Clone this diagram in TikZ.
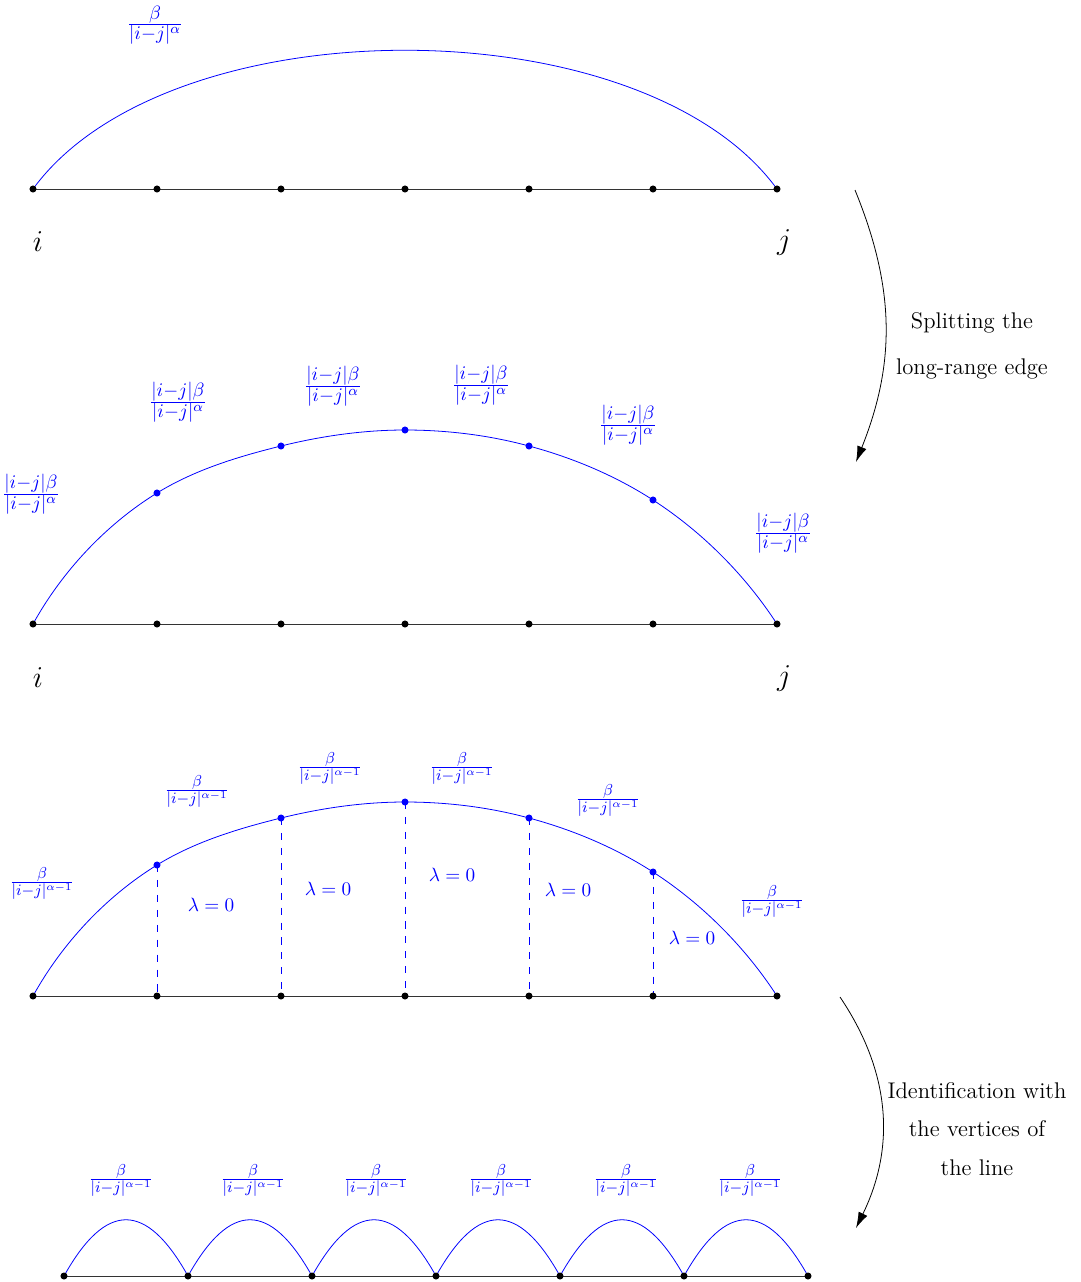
\documentclass[tikz,border=0pt]{standalone}
\usetikzlibrary{arrows.meta}
\begin{document}
\begin{tikzpicture}[x=0.02cm,y=-0.02cm,
  dot/.style={circle,fill=black,inner sep=0pt,minimum size=4pt},
  bdot/.style={circle,fill=blue,inner sep=0pt,minimum size=4pt},
  base/.style={draw=black!80,line width=0.55pt},
  arc/.style={draw=blue,line width=0.45pt},
  dsh/.style={draw=blue,line width=0.45pt,dash pattern=on 4pt off 4.5pt},
  lab/.style={text=blue,font=\fontsize{15.5}{18}\selectfont,inner sep=0pt},
  slab/.style={text=blue,font=\fontsize{12.5}{15}\selectfont,inner sep=0pt},
  lam/.style={text=blue,font=\fontsize{10.5}{13}\selectfont,inner sep=0pt},
  ij/.style={font=\fontsize{18}{20}\selectfont,inner sep=0pt},
  txta/.style={font=\fontsize{12.9}{26}\selectfont,align=center,inner sep=0pt},
  txtb/.style={font=\fontsize{12.9}{22}\selectfont,align=center,inner sep=0pt},
  arr/.style={-{Latex[length=9pt,width=5.5pt]},line width=0.45pt}
]
\useasboundingbox (0,0) rectangle (1080,1282);

% ---------- coordinates ----------
\foreach \k in {1,...,7}{
  \coordinate (a\k) at ({33+124*(\k-1)},189);
  \coordinate (b\k) at ({33+124*(\k-1)},624);
  \coordinate (c\k) at ({33+124*(\k-1)},996);
  \coordinate (d\k) at ({64+124*(\k-1)},1276);
}
\coordinate (p1) at (157,493);
\coordinate (p2) at (281,446);
\coordinate (p3) at (405,430);
\coordinate (p4) at (529,446);
\coordinate (p5) at (653,500);
\coordinate (q1) at (157,865);
\coordinate (q2) at (281,818);
\coordinate (q3) at (405,802);
\coordinate (q4) at (529,818);
\coordinate (q5) at (653,872);

% ---------- row 1 ----------
\draw[base] (a1) -- (a7);
\draw[arc] (a1) .. controls +(135,-185) and +(-135,-185) .. (a7);
\foreach \k in {1,...,7}{ \node[dot] (na\k) at (a\k) {}; }
\node[lab] (l0) at (155,25) {$\frac{\beta}{|i-j|^{\alpha}}$};
\node[ij] (i1) at (38,242) {$i$};
\node[ij] (j1) at (784,242) {$j$};

% ---------- row 2 ----------
\draw[base] (b1) -- (b7);
\draw[arc] (b1) .. controls +(29.1,-52.6) and +(-51.2,31.6) .. (p1)
               .. controls +(37.6,-23.2) and +(-42.9,10.6) .. (p2)
               .. controls +(40.5,-10.0) and +(-41.7,0) .. (p3)
               .. controls +(41.7,0) and +(-40.2,-10.9) .. (p4)
               .. controls +(43.5,11.7) and +(-37.9,-24.5) .. (p5)
               .. controls +(49.1,31.8) and +(-31.9,-49.1) .. (b7);
\foreach \k in {1,...,7}{ \node[dot] (nb\k) at (b\k) {}; }
\foreach \k in {1,...,5}{ \node[bdot] (np\k) at (p\k) {}; }
\node[lab] (m1) at (31,494) {$\frac{|i-j|\beta}{|i-j|^{\alpha}}$};
\node[lab] (m2) at (178,402) {$\frac{|i-j|\beta}{|i-j|^{\alpha}}$};
\node[lab] (m3) at (333,386) {$\frac{|i-j|\beta}{|i-j|^{\alpha}}$};
\node[lab] (m4) at (481,385) {$\frac{|i-j|\beta}{|i-j|^{\alpha}}$};
\node[lab] (m5) at (628,425) {$\frac{|i-j|\beta}{|i-j|^{\alpha}}$};
\node[lab] (m6) at (783,533) {$\frac{|i-j|\beta}{|i-j|^{\alpha}}$};
\node[ij] (i2) at (38,678) {$i$};
\node[ij] (j2) at (784,678) {$j$};

% ---------- row 3 ----------
\draw[base] (c1) -- (c7);
\draw[arc] (c1) .. controls +(29.1,-52.6) and +(-51.2,31.6) .. (q1)
               .. controls +(37.6,-23.2) and +(-42.9,10.6) .. (q2)
               .. controls +(40.5,-10.0) and +(-41.7,0) .. (q3)
               .. controls +(41.7,0) and +(-40.2,-10.9) .. (q4)
               .. controls +(43.5,11.7) and +(-37.9,-24.5) .. (q5)
               .. controls +(49.1,31.8) and +(-31.9,-49.1) .. (c7);
\draw[dsh] (q1) -- (c2);
\draw[dsh] (q2) -- (c3);
\draw[dsh] (q3) -- (c4);
\draw[dsh] (q4) -- (c5);
\draw[dsh] (q5) -- (c6);
\foreach \k in {1,...,7}{ \node[dot] (nc\k) at (c\k) {}; }
\foreach \k in {1,...,5}{ \node[bdot] (nq\k) at (q\k) {}; }
\node[slab] (r1) at (42,883) {$\frac{\beta}{|i-j|^{\alpha-1}}$};
\node[slab] (r2) at (197,791) {$\frac{\beta}{|i-j|^{\alpha-1}}$};
\node[slab] (r3) at (330,768) {$\frac{\beta}{|i-j|^{\alpha-1}}$};
\node[slab] (r4) at (462,768) {$\frac{\beta}{|i-j|^{\alpha-1}}$};
\node[slab] (r5) at (608,800) {$\frac{\beta}{|i-j|^{\alpha-1}}$};
\node[slab] (r6) at (772,901) {$\frac{\beta}{|i-j|^{\alpha-1}}$};
\node[lam] (la1) at (211,905) {$\lambda=0$};
\node[lam] (la2) at (328,889) {$\lambda=0$};
\node[lam] (la3) at (452,875) {$\lambda=0$};
\node[lam] (la4) at (568,890) {$\lambda=0$};
\node[lam] (la5) at (692,938) {$\lambda=0$};

% ---------- row 4 ----------
\draw[base] (d1) -- (d7);
\foreach \i/\j in {1/2,2/3,3/4,4/5,5/6,6/7}{
  \draw[arc] (d\i) .. controls +(42,-75) and +(-42,-75) .. (d\j);
}
\foreach \k in {1,...,7}{ \node[dot] (nd\k) at (d\k) {}; }
\foreach \x [count=\k] in {121,253,376,501,626,750}{
  \node[slab] (s\k) at (\x,1180) {$\frac{\beta}{|i-j|^{\alpha-1}}$};
}

% ---------- arrows and captions ----------
\coordinate (s1) at (855,190);
\coordinate (e1) at (856,462);
\draw[arr] (s1) to[bend left=22] (e1);
\node[txta] (t1) at (972,346) {Splitting the\\long-range edge};

\coordinate (s2) at (840,997);
\coordinate (e2) at (856,1228);
\draw[arr] (s2) to[bend left=30] (e2);
\node[txtb] (t2) at (977,1129) {Identification with\\the vertices of\\the line};
\end{tikzpicture}
\end{document}
